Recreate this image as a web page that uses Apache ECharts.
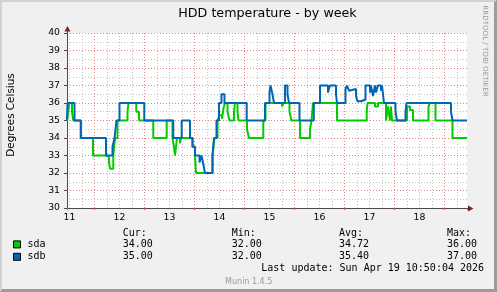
<!DOCTYPE html>
<html><head><meta charset="utf-8">
<script src="https://cdn.jsdelivr.net/npm/echarts@6/dist/echarts.min.js"></script>
<style>
html,body{margin:0;padding:0;background:#F0F0F0;}
#wrap{position:relative;width:497px;height:292px;background:#F0F0F0;overflow:hidden;}
#chart{position:absolute;left:0;top:0;width:497px;height:292px;}
#frame{position:absolute;left:0;top:0;width:497px;height:292px;box-sizing:border-box;border-top:2px solid #D2D2D2;border-left:2px solid #D2D2D2;border-right:3px solid #9C9C9C;border-bottom:3px solid #9C9C9C;pointer-events:none;}
</style></head><body>
<div id="wrap"><div id="chart"></div><div id="frame"></div></div>
<script>
// ---- data (hours since Apr 11 00:00, temperatures in °C) ----
const seriesNames = ['sda', 'sdb'];
const sdaHours = [10.84, 11.45, 11.93, 13.23, 13.85, 17.55, 23.31, 29.69, 30.99, 31.47, 33.05, 33.87, 35.07, 39.87, 40.35, 44.09, 45.39, 52.25, 58.69, 61.47, 62.19, 62.67, 63.63, 65.07, 65.55, 71.07, 72.27, 72.75, 80.67, 81.63, 83.07, 84.03, 85.23, 85.95, 86.67, 87.87, 88.83, 90.99, 91.47, 92.67, 93.15, 97.23, 98.19, 105.05, 106.11, 114.03, 114.75, 117.63, 118.59, 122.67, 127.47, 128.19, 128.91, 140.43, 154.69, 155.07, 158.67, 160.11, 163.95, 164.91, 165.87, 166.35, 166.83, 174.03, 175.47, 176.91, 184.35, 185.07, 187.71, 195.87, 202.83];
const sdaTemps = [35, 35.5, 36, 35.5, 35, 34, 33, 32.9, 32.6, 32.25, 33, 34, 35, 35.5, 36, 35.5, 35, 34, 35, 34, 33.5, 33, 34, 33.7, 34, 33.5, 33, 32, 33, 34, 35, 35.3, 35.1, 35.7, 36, 35.5, 35, 35.5, 36, 35.5, 35, 34.5, 34, 35, 36, 35.8, 36, 35.5, 35, 34, 34.5, 35, 36, 35, 35.5, 36, 35.8, 36, 35, 35.8, 35, 35.8, 35, 35.8, 35.6, 35, 35.8, 36, 35, 34, 34];
const sdbHours = [10.84, 11.07, 14.43, 17.41, 29.55, 32.67, 33.63, 34.59, 36.03, 47.93, 61.85, 65.89, 69.87, 71.07, 72.27, 74.43, 75.39, 76.11, 77.07, 80.67, 81.39, 82.59, 83.79, 84.99, 86.43, 97.09, 105.87, 108.03, 108.51, 109.47, 110.19, 115.47, 116.67, 117.39, 122.43, 129.29, 132.27, 136.11, 137.07, 139.95, 140.43, 144.51, 145.23, 146.19, 147.15, 149.55, 150.27, 151.95, 154.11, 156.27, 156.75, 157.71, 158.67, 159.15, 160.11, 161.55, 162.03, 162.99, 168.51, 169.23, 173.31, 173.79, 195.15, 195.87, 202.83];
const sdbTemps = [35, 36, 35, 34, 33, 33.5, 34, 35, 36, 35, 34, 35, 34, 33.5, 33, 32.6, 33, 32.6, 32, 33, 34, 35, 36, 36.5, 36, 35, 36, 36.6, 37, 36.5, 36, 37, 36.5, 36, 35, 36, 37, 36.6, 37, 36.5, 36, 36.8, 37, 36.7, 36.8, 36.4, 36.1, 36.2, 37, 36.6, 37, 36.4, 37, 36.6, 37, 36.7, 37, 36, 35.5, 35, 35.5, 36, 35.5, 35, 35];
const xDayLabels = ['11', '12', '13', '14', '15', '16', '17', '18'];
const statHeaders = ['Cur:', 'Min:', 'Avg:', 'Max:'];
const sdaStats = ['34.00', '32.00', '34.72', '36.00'];
const sdbStats = ['35.00', '32.00', '35.40', '37.00'];
const titleText = 'HDD temperature - by week';
const yAxisTitle = 'Degrees Celsius';
const lastUpdateText = 'Last update: Sun Apr 19 10:50:04 2026';
const watermarkText = 'RRDTOOL / TOBI OETIKER';
const versionText = 'Munin 1.4.5';

// ---- layout / style ----
const START_HOUR = 10 + 50 / 60;
const END_HOUR = START_HOUR + 192;
const GL = 67, GT = 33, GW = 400, GH = 175;
const MONO = '"DejaVu Sans Mono", monospace';
const SANS = '"DejaVu Sans", sans-serif';
const AXIS = '#4a4a4a';
const ARROW = '#7F1F1F';
const GRID_MINOR = '#c4c4c4';
const GRID_MAJOR = '#e68484';
const COLORS = ['#00CC00', '#0066B3'];

const zip = (a, b) => a.map((h, i) => [h, b[i]]);
const chart = echarts.init(document.getElementById('chart'), null, {renderer: 'canvas', width: 497, height: 292});

const colX = [122.7, 231.7, 339, 447];
const rowY = [233, 244.4, 256.8];
const txt = (text, x, y, font, fill, align, extra) => Object.assign({
  type: 'text', x: x, y: y, z: 100,
  style: {text: text, font: font, fill: fill, align: align, verticalAlign: 'middle', textAlign: align, textVerticalAlign: 'middle'}
}, extra || {});

const graphics = [];
graphics.push(txt(titleText, GL + GW / 2 + 0.5, 13.5, '12.7px ' + SANS, '#000', 'center'));
graphics.push(txt(yAxisTitle, 11.4, 115, '10.4px ' + SANS, '#000', 'center', {rotation: Math.PI / 2}));
graphics.push(txt(watermarkText, 485, 51, '7.1px ' + SANS, '#9a9a9a', 'center', {rotation: -Math.PI / 2}));
statHeaders.forEach((h, i) => graphics.push(txt(h, colX[i], rowY[0], '10px ' + MONO, '#000', 'left')));
sdaStats.forEach((s, i) => graphics.push(txt(s, colX[i], rowY[1], '10px ' + MONO, '#000', 'left')));
sdbStats.forEach((s, i) => graphics.push(txt(s, colX[i], rowY[2], '10px ' + MONO, '#000', 'left')));
graphics.push(txt(lastUpdateText, 261.3, 268.8, '10px ' + MONO, '#000', 'left'));
graphics.push(txt(versionText, 248.7, 281.7, '8px ' + SANS, '#9a9a9a', 'center'));
// axis arrows
graphics.push({type: 'line', z: 99, shape: {x1: GL + 0.5, y1: GT, x2: GL + 0.5, y2: GT - 2}, style: {stroke: AXIS, lineWidth: 1}});
graphics.push({type: 'polygon', z: 99, shape: {points: [[GL - 2.5, GT - 1.5], [GL + 3.5, GT - 1.5], [GL + 0.5, GT - 7]]}, style: {fill: ARROW}});
graphics.push({type: 'line', z: 99, shape: {x1: GL + GW, y1: GT + GH + 0.5, x2: GL + GW + 2, y2: GT + GH + 0.5}, style: {stroke: AXIS, lineWidth: 1}});
graphics.push({type: 'polygon', z: 99, shape: {points: [[GL + GW + 1, GT + GH - 2.5], [GL + GW + 1, GT + GH + 3.5], [GL + GW + 6.5, GT + GH + 0.5]]}, style: {fill: ARROW}});

chart.setOption({
  animation: false,
  backgroundColor: '#F0F0F0',
  grid: {left: GL, top: GT, width: GW, height: GH, show: true, backgroundColor: '#FFFFFF', borderWidth: 0},
  legend: {
    data: seriesNames, orient: 'vertical', left: 13, top: 238.4, padding: 0,
    itemWidth: 7, itemHeight: 7, itemGap: 0.4, icon: 'rect', selectedMode: false,
    itemStyle: {borderColor: '#000', borderWidth: 1},
    textStyle: {fontFamily: MONO, fontSize: 10, color: '#000', lineHeight: 12, padding: [0, 0, 0, 2]}
  },
  xAxis: [{
    // 6-hour grid: 12:00, 18:00, 00:00 (major, red), 06:00, ...
    type: 'value', min: START_HOUR, max: END_HOUR, minInterval: 6, maxInterval: 6,
    axisLine: {show: true, lineStyle: {color: AXIS, width: 1}},
    axisTick: {show: false},
    axisLabel: {
      show: true, margin: 5.5, color: '#000', fontFamily: SANS, fontSize: 9.3,
      formatter: function (v) {
        const k = (v - 12) / 24, r = Math.round(k);
        return (Math.abs(k - r) < 1e-6 && r >= 0 && r < xDayLabels.length) ? xDayLabels[r] : '';
      }
    },
    splitLine: {show: true, showMinLine: false, showMaxLine: false,
      lineStyle: {color: [GRID_MINOR, GRID_MINOR, GRID_MAJOR, GRID_MINOR], type: [1, 2], width: 1}}
  }, {
    type: 'value', position: 'bottom', min: START_HOUR, max: END_HOUR, minInterval: 24, maxInterval: 24,
    axisLine: {show: false}, axisLabel: {show: false}, splitLine: {show: false},
    axisTick: {show: true, length: 2, lineStyle: {color: '#DE5050'}}
  }],
  yAxis: [{
    type: 'value', min: 30, max: 40, interval: 0.5,
    axisLine: {show: true, lineStyle: {color: AXIS, width: 1}},
    axisTick: {show: false},
    axisLabel: {margin: 7, color: '#000', fontFamily: SANS, fontSize: 9.3,
      formatter: function (v) { return Math.abs(v - Math.round(v)) < 1e-6 ? String(Math.round(v)) : ''; }},
    splitLine: {show: true, lineStyle: {color: [GRID_MAJOR, GRID_MINOR], type: [1, 2], width: 1}}
  }, {
    type: 'value', position: 'left', min: 30, max: 40, interval: 1,
    axisLine: {show: false}, axisLabel: {show: false}, splitLine: {show: false},
    axisTick: {show: true, length: 3, lineStyle: {color: AXIS}}
  }],
  series: [{
    name: seriesNames[0], type: 'line', xAxisIndex: 0, yAxisIndex: 0, step: 'end', data: zip(sdaHours, sdaTemps),
    showSymbol: false, symbol: 'none', color: COLORS[0],
    lineStyle: {color: COLORS[0], width: 2}, itemStyle: {color: COLORS[0]}, emphasis: {disabled: true}
  }, {
    name: seriesNames[1], type: 'line', xAxisIndex: 0, yAxisIndex: 0, step: 'end', data: zip(sdbHours, sdbTemps),
    showSymbol: false, symbol: 'none', color: COLORS[1],
    lineStyle: {color: COLORS[1], width: 2}, itemStyle: {color: COLORS[1]}, emphasis: {disabled: true}
  }],
  graphic: graphics
});
</script>
</body></html>
